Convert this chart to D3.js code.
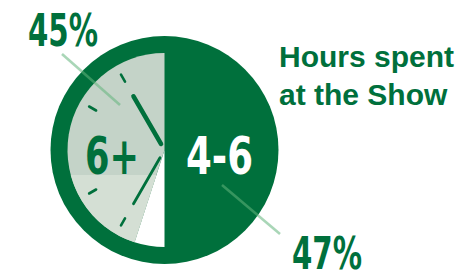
<!DOCTYPE html>
<html>
<head>
<meta charset="utf-8">
<script src="https://cdn.jsdelivr.net/npm/d3@7"></script>
<style>
  body { margin: 0; background: #fff; }
  svg { display: block; }
</style>
</head>
<body>
<div id="chart"></div>
<script>
// data
var categories = ["6+", "4-6"];
var shares = [45, 47];
var shareLabels = ["45%", "47%"];
var title = ["Hours spent", "at the Show"];
// clock decoration (hours on the dial)
var tickHours = [7, 8, 10, 11];
var handHours = [11, 7];

var W = 461, H = 271;
var cx = 164.5, cy = 150, R = 114, r = 97;
var dark = "#00703c";

var svg = d3.select("#chart").append("svg")
    .attr("width", W)
    .attr("height", H);

// percent -> angle (clockwise from 12 o'clock)
var angle = d3.scaleLinear().domain([0, 100]).range([0, 2 * Math.PI]);
var hourAngle = d3.scaleLinear().domain([0, 12]).range([0, 2 * Math.PI]);

var defs = svg.append("defs");
defs.append("clipPath").attr("id", "lowband")
    .append("rect")
    .attr("x", -R).attr("y", 25)
    .attr("width", 2 * R).attr("height", R);

var g = svg.append("g").attr("transform", `translate(${cx},${cy})`);

// dark disc (ring + the 4-6 half)
g.append("circle").attr("r", R).attr("fill", dark);

// white remainder of the dial on the left side
var arc = d3.arc().innerRadius(0).outerRadius(r);
g.append("path")
    .attr("d", arc({ startAngle: Math.PI, endAngle: 2 * Math.PI - angle(shares[0]) }))
    .attr("fill", "#fff");

// 6+ slice, counter-clockwise from 12
var lightSlice = { startAngle: 2 * Math.PI - angle(shares[0]), endAngle: 2 * Math.PI };
g.append("path").attr("d", arc(lightSlice)).attr("fill", "#c4d3c8");
g.append("path").attr("d", arc(lightSlice)).attr("fill", "#d4dfd4")
    .attr("clip-path", "url(#lowband)");

// hour ticks
function polar(a, rad) { return [Math.sin(a) * rad, -Math.cos(a) * rad]; }
g.selectAll(".tick")
    .data(tickHours)
    .enter().append("line")
    .attr("x1", d => polar(hourAngle(d), 79)[0])
    .attr("y1", d => polar(hourAngle(d), 79)[1])
    .attr("x2", d => polar(hourAngle(d), 87)[0])
    .attr("y2", d => polar(hourAngle(d), 87)[1])
    .attr("stroke", dark)
    .attr("stroke-width", 2.6)
    .attr("stroke-linecap", "round");

// hands
g.selectAll(".hand")
    .data(handHours)
    .enter().append("line")
    .attr("x1", (d, i) => polar(hourAngle(d), i ? 9 : 7)[0])
    .attr("y1", (d, i) => polar(hourAngle(d), i ? 9 : 7)[1])
    .attr("x2", d => polar(hourAngle(d), 62)[0])
    .attr("y2", d => polar(hourAngle(d), 62)[1])
    .attr("stroke", dark)
    .attr("stroke-width", (d, i) => i ? 2.8 : 4.6)
    .attr("stroke-linecap", "round");

// leader lines
var leaders = [[62, 54, 120, 105], [222, 185, 280, 234]];
svg.selectAll(".leader")
    .data(leaders)
    .enter().append("line")
    .attr("x1", d => d[0]).attr("y1", d => d[1])
    .attr("x2", d => d[2]).attr("y2", d => d[3])
    .attr("stroke", "#62b47c")
    .attr("stroke-opacity", 0.55)
    .attr("stroke-width", 2.6);

// condensed look: squeeze the bold face to the width in the picture
var big = "'DejaVu Sans', sans-serif";
svg.selectAll(".cat")
    .data(categories)
    .enter().append("text")
    .attr("x", (d, i) => i ? 186 : 85)
    .attr("y", 174)
    .attr("textLength", (d, i) => i ? 67 : 54)
    .attr("lengthAdjust", "spacingAndGlyphs")
    .style("font-family", big)
    .style("font-weight", "bold")
    .style("font-size", "51px")
    .attr("fill", (d, i) => i ? "#fff" : dark)
    .text(d => d);

// percent labels
svg.selectAll(".pct")
    .data(shareLabels)
    .enter().append("text")
    .attr("x", (d, i) => i ? 292 : 28)
    .attr("y", (d, i) => i ? 269 : 46)
    .attr("textLength", 70)
    .attr("lengthAdjust", "spacingAndGlyphs")
    .style("font-family", big)
    .style("font-weight", "bold")
    .style("font-size", "44px")
    .attr("fill", dark)
    .text(d => d);

// title
svg.selectAll(".title")
    .data(title)
    .enter().append("text")
    .attr("x", 279)
    .attr("y", (d, i) => 67 + i * 38)
    .style("font-family", "'Liberation Sans', Arial, sans-serif")
    .style("font-weight", "bold")
    .style("font-size", "30px")
    .attr("fill", dark)
    .text(d => d);
</script>
</body>
</html>
